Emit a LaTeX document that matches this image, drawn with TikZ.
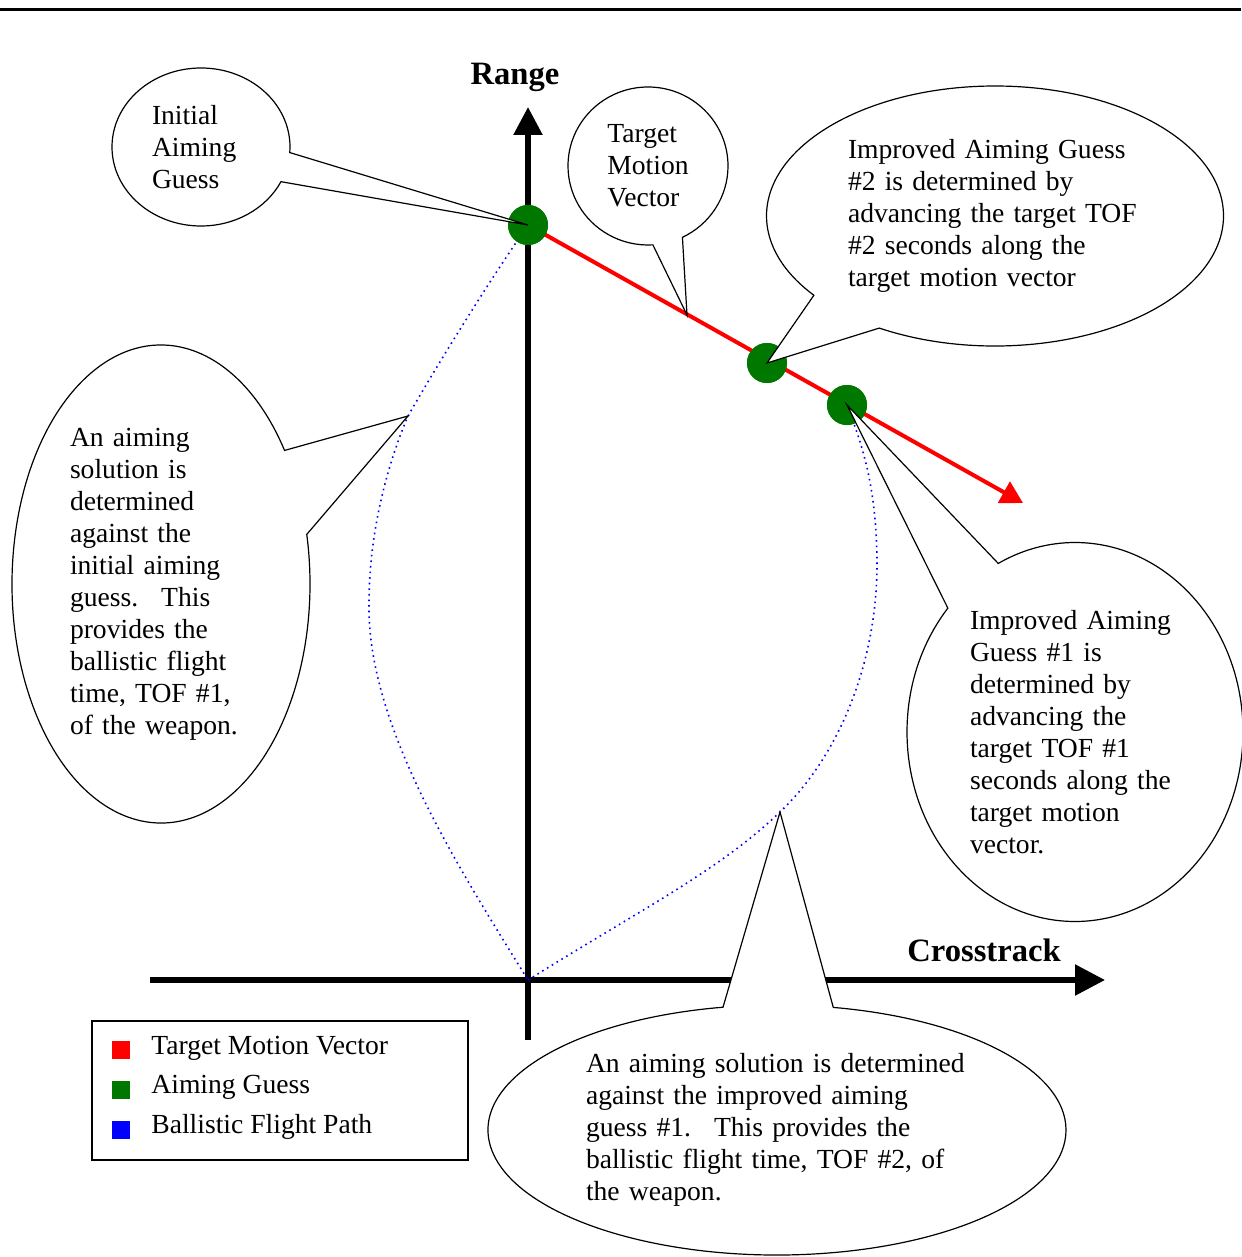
\documentclass[tikz,border=0pt]{standalone}
\usepackage{fontspec}
\setmainfont{Liberation Serif}
\usetikzlibrary{shapes.callouts, arrows.meta}

\definecolor{guessgreen}{RGB}{0,120,0}

\tikzset{
    bubble/.style={ellipse callout, draw, fill=white, line width=0.6pt,
        inner sep=0pt, align=left, callout pointer arc=22,
        font=\fontsize{13.8}{16}\selectfont},
    guessdot/.style={circle, fill=guessgreen, minimum size=20pt, inner sep=0pt},
    flightpath/.style={blue, dotted, line width=0.8pt},
    swatch/.style={minimum size=9pt, inner sep=0pt},
    legtext/.style={anchor=west, inner sep=0pt, font=\fontsize{13.8}{16}\selectfont},
    axislabel/.style={font=\fontsize{16.3}{18}\selectfont\bfseries}
}

\begin{document}
\begin{tikzpicture}[x=0.5pt, y=-0.5pt]
    \useasboundingbox (0,0) rectangle (1241,1257);
    \draw[line width=1.5pt] (0,10) -- (1241,10);

    % axes
    \coordinate (O) at (528,980);
    \coordinate (ybot) at (528,1040);
    \coordinate (ytop) at (528,107);
    \coordinate (xleft) at (150,980);
    \coordinate (xright) at (1105,980);
    \draw[line width=2.75pt, -{Triangle[length=14pt, width=14pt]}] (ybot) -- (ytop);
    \draw[line width=2.75pt, -{Triangle[length=15pt, width=15pt]}] (xleft) -- (xright);
    \node[axislabel] (range) at (515,77) {Range};
    \node[axislabel] (cross) at (984,950) {Crosstrack};

    \node[guessdot] (g1) at (528,225) {};
    \node[guessdot] (g2) at (767,363) {};
    \node[guessdot] (g3) at (847,405) {};

    \coordinate (vecend) at (1023,503);
    \coordinate (vecpt) at (687,315);
    \coordinate (path1pt) at (408,416);
    \coordinate (path2pt) at (780,812);

    % ballistic flight paths
    \draw[flightpath] (g1.center) .. controls (490,280) and (440,360) .. (path1pt)
        .. controls (385,470) and (368,540) .. (369,610)
        .. controls (370,730) and (460,870) .. (O);
    \draw[flightpath] (O) .. controls (640,910) and (720,870) .. (path2pt)
        .. controls (840,755) and (878,660) .. (877,560)
        .. controls (876,480) and (860,440) .. (g3.center);

    % target motion vector
    \draw[red, line width=2pt, -{Triangle[length=11pt, width=12pt]}] (g1.center) -- (vecend);
    \node[guessdot] at (g1) {};
    \node[guessdot] at (g2) {};
    \node[guessdot] at (g3) {};

    % callouts
    \node[bubble, minimum width=89pt, minimum height=79pt, text width=49pt,
        callout absolute pointer=(g1.center)] (initial) at (201,147)
        {Initial\\Aiming\\Guess};
    \node[bubble, minimum width=80pt, minimum height=79pt,
        callout absolute pointer=(vecpt)] (tmv) at (648,166)
        {Target\\Motion\\Vector};
    \node[bubble, minimum width=228.5pt, minimum height=130pt, text width=147pt,
        callout absolute pointer=(g2.center)] (guess2) at (995,216)
        {Improved Aiming Guess\\\#2 is determined by\\advancing the target TOF\\\#2 seconds along the\\target motion vector};
    \node[bubble, minimum width=149pt, minimum height=239pt, text width=91pt,
        callout absolute pointer=(path1pt)] (sol1) at (161,584)
        {An aiming\\solution is\\determined\\against the\\initial aiming\\guess.~ This\\provides the\\ballistic flight\\time, TOF \#1,\\of the weapon.};
    \node[bubble, minimum width=168pt, minimum height=189.5pt, text width=105pt,
        callout absolute pointer=(g3.center)] (guess1) at (1075,732)
        {Improved Aiming\\Guess \#1 is\\determined by\\advancing the\\target TOF \#1\\seconds along the\\target motion\\vector.};
    \node[bubble, minimum width=289pt, minimum height=125pt, text width=191pt,
        callout absolute pointer=(path2pt)] (sol2) at (777,1130)
        {An aiming solution is determined\\against the improved aiming\\guess \#1.~ This provides the\\ballistic flight time, TOF \#2, of\\the weapon.};

    % legend
    \node[draw, line width=0.75pt, minimum width=188pt, minimum height=69.5pt,
        inner sep=0pt] (legend) at (280,1090.5) {};
    \node[swatch, fill=red] (swred) at (121,1050) {};
    \node[swatch, fill=guessgreen] (swgreen) at (121,1090) {};
    \node[swatch, fill=blue] (swblue) at (121,1130) {};
    \node[legtext] (lbred) at (151,1048) {Target Motion Vector};
    \node[legtext] (lbgreen) at (151,1087) {Aiming Guess};
    \node[legtext] (lbblue) at (151,1127) {Ballistic Flight Path};
\end{tikzpicture}
\end{document}
